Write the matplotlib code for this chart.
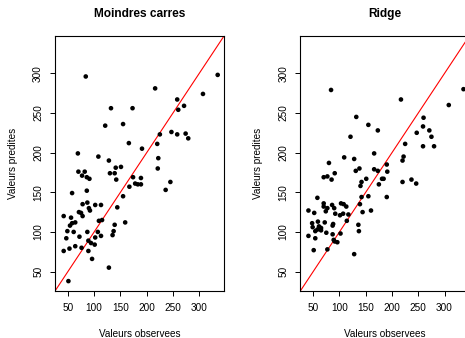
import numpy as np
import matplotlib.pyplot as plt

plt.rcParams['font.family'] = ['Liberation Sans', 'DejaVu Sans']

# observed vs predicted values, least squares fit
obs_mc = [84, 216, 335, 307, 258, 271, 260, 132, 173, 121, 155, 247, 258, 274, 279,
          225, 166, 220, 191, 69, 108, 128, 222, 141, 151, 221,
          70, 82, 77, 86, 91, 130, 139, 142, 174, 189, 178, 183, 189, 167, 245, 236,
          58, 86, 155, 78, 87, 102, 113, 90, 92, 71, 75, 78, 144, 42, 56, 109, 115,
          64, 58, 54, 159, 139, 137, 135, 49, 61, 87, 107, 113, 72, 47, 102, 89, 94,
          101, 64, 53, 76, 42, 89, 96, 128, 51]
pred_mc = [296, 281, 298, 274, 267, 259, 254, 256, 256, 234, 236, 226, 223, 224, 218,
           223, 212, 211, 205, 199, 195, 190, 193, 181, 182, 180,
           176, 176, 171, 169, 167, 174, 174, 166, 169, 168, 161, 160, 160, 157, 163, 153,
           149, 152, 145, 135, 137, 134, 134, 130, 127, 125, 124, 120, 131, 120, 118, 114, 115,
           112, 111, 108, 112, 109, 101, 96, 101, 100, 100, 100, 95, 94, 92, 93, 89, 86,
           84, 82, 79, 80, 76, 76, 66, 55, 38]

# observed vs predicted values, ridge fit
obs_rd = [84, 217, 336, 308, 260, 259, 271, 275, 280, 247, 259, 225, 222, 220, 132,
          155, 173, 121, 166, 190, 80, 109, 128, 138, 166,
          131, 173, 191, 70, 77, 85, 91, 142, 140, 151, 181, 184, 175, 220, 237, 246,
          190, 142, 155, 139, 144, 160, 58, 41, 52, 70, 70, 77, 74, 86, 90, 103, 108,
          113, 92, 101, 107, 117, 114, 48, 59, 72, 88, 87, 49, 61, 65, 54, 58, 65, 75,
          41, 54, 87, 102, 89, 91, 96, 136, 137, 77, 51, 128]
pred_rd = [279, 267, 280, 260, 244, 233, 228, 220, 208, 225, 208, 211, 195, 190, 245,
           235, 228, 220, 199, 185, 187, 194, 192, 180, 179,
           177, 177, 176, 169, 170, 166, 174, 163, 158, 167, 167, 167, 160, 163, 166, 161,
           144, 144, 145, 135, 125, 127, 143, 127, 124, 136, 132, 130, 126, 134, 130, 136, 135,
           132, 123, 121, 123, 122, 114, 111, 113, 112, 110, 108, 106, 107, 105, 101, 103, 102, 99,
           95, 92, 97, 98, 90, 88, 87, 109, 101, 78, 77, 72]

titles = ["Moindres carres", "Ridge"]
ticks = [50, 100, 150, 200, 250, 300]
lims = (25.5, 347)

fig = plt.figure(figsize=(4.65, 3.38), dpi=100)
ax1 = fig.add_axes([0.1183, 0.139, 0.3634, 0.7544])
ax2 = fig.add_axes([0.6458, 0.139, 0.3634, 0.7544])

for ax, xs, ys, title in zip([ax1, ax2], [obs_mc, obs_rd], [pred_mc, pred_rd], titles):
    ax.scatter(xs, ys, s=11, c='black', edgecolors='none', zorder=3)
    ax.axline((0, 0), slope=1, color='red', lw=0.8, zorder=2)
    ax.set_xlim(lims)
    ax.set_ylim(lims)
    ax.set_xticks(ticks)
    ax.set_yticks(ticks)
    ax.tick_params(direction='out', length=3.6, width=0.7, labelsize=7.2, pad=5)
    for lab in ax.get_yticklabels():
        lab.set_rotation(90)
        lab.set_va('center')
    for sp in ax.spines.values():
        sp.set_linewidth(0.8)
    ax.set_title(title, fontsize=8.6, fontweight='bold', pad=14)
    ax.set_xlabel("Valeurs observees", fontsize=7.2, labelpad=11.5)
    ax.set_ylabel("Valeurs predites", fontsize=7.2, labelpad=11)

fig.savefig("out.png", dpi=100)
